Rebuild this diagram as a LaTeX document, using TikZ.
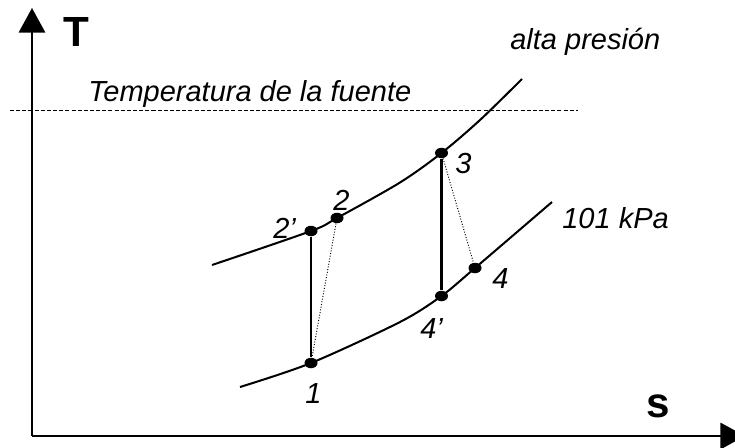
\documentclass[tikz,border=0pt]{standalone}
\usepackage{fontspec}
\setmainfont{Liberation Sans}
\usetikzlibrary{arrows.meta, shapes.geometric}

\begin{document}
\begin{tikzpicture}[
    dot/.style={ellipse, fill, inner sep=0pt, minimum width=2.6mm, minimum height=2.1mm},
    lbl/.style={inner sep=0pt, anchor=base west, font=\fontsize{16.5}{18}\selectfont\itshape},
    axlbl/.style={inner sep=0pt, font=\fontsize{24}{26}\selectfont\bfseries},
    curve/.style={line width=1.15pt},
    axis/.style={line width=1.15pt, -{Triangle[length=14pt, width=15pt]}}
]
    \useasboundingbox (-0.64,-0.22) rectangle (14.06,8.72);

    % AXES
    \coordinate (O) at (0,0);
    \coordinate (Ttop) at (0,8.56);
    \coordinate (send) at (14.26,0);
    \draw[axis] (O) -- (Ttop);
    \draw[axis] (O) -- (send);
    \node[axlbl] (Tlbl) at (0.88,8.09) {T};
    \node[axlbl] (slbl) at (12.53,0.60) {s};

    % SOURCE TEMPERATURE (dashed)
    \coordinate (fa) at (-0.44,6.52);
    \coordinate (fb) at (10.92,6.52);
    \draw[dash pattern=on 2.3pt off 1.2pt, line width=0.55pt] (fa) -- (fb);
    \node[lbl] (fuente) at (1.12,6.70) {Temperatura de la fuente};

    % STATE POINTS
    \node[dot] (p1) at (5.58,1.46) {};
    \node[dot] (p2s) at (5.58,4.10) {};
    \node[dot] (p2) at (6.10,4.36) {};
    \node[dot] (p3) at (8.19,5.66) {};
    \node[dot] (p4s) at (8.19,2.80) {};
    \node[dot] (p4) at (8.86,3.36) {};

    % ISOBARS
    \draw[curve] plot[smooth] coordinates {(3.60,3.42) (p2s.center) (p2.center)
        (7.36,5.07) (p3.center) (8.96,6.32) (9.80,7.14)};
    \draw[curve] plot[smooth] coordinates {(4.16,0.98) (p1.center) (7.36,2.28)
        (p4s.center) (p4.center) (10.40,4.68)};
    \node[lbl] (alta) at (9.56,7.74) {alta presión};
    \node[lbl] (baja) at (10.60,4.16) {101 kPa};

    % PROCESSES: ideal (solid) and real (dotted)
    \draw[curve] (p2s) -- (p1);
    \draw[curve] (p3) -- (p4s);
    \draw[densely dotted, line width=0.55pt] (p2) -- (p1);
    \draw[densely dotted, line width=0.55pt] (p3) -- (p4);

    % POINT LABELS
    \node[lbl] (l1) at (5.46,0.66) {1};
    \node[lbl] (l2s) at (4.82,3.96) {2’};
    \node[lbl] (l2) at (6.02,4.52) {2};
    \node[lbl] (l3) at (8.46,5.26) {3};
    \node[lbl] (l4s) at (7.76,1.96) {4’};
    \node[lbl] (l4) at (9.20,2.96) {4};

\end{tikzpicture}
\end{document}
